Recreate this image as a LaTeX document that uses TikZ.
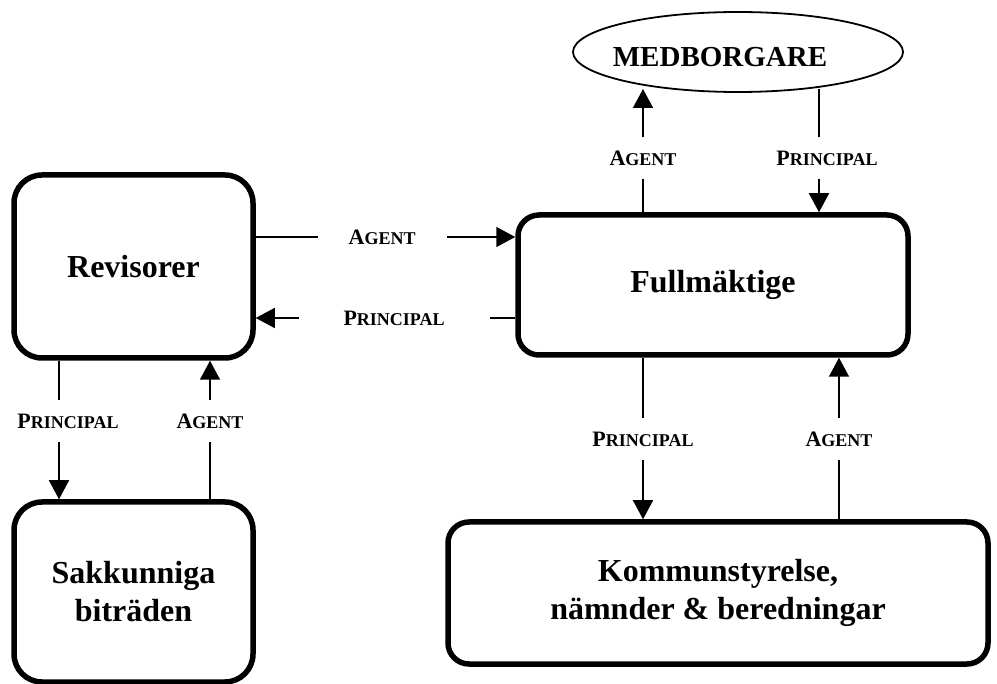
\documentclass[tikz,border=0pt]{standalone}
\usepackage{fontspec}
\setmainfont{Liberation Serif}
\usetikzlibrary{arrows.meta,shapes.geometric}
\newcommand\smcap[2]{{\fontsize{22}{22}\selectfont #1}{\fontsize{18}{18}\selectfont #2}}
\begin{document}
\begin{tikzpicture}[x=1pt,y=-1pt,
  box/.style={draw, line width=5.5pt, rounded corners=28pt, align=center,
    font=\fontsize{32}{38}\selectfont\bfseries, inner sep=0pt},
  arr/.style={line width=1.5pt, -{Triangle[length=19pt,width=20pt]}},
  lab/.style={fill=white, inner xsep=2pt, inner ysep=13.5pt, font=\bfseries},
  hlab/.style={fill=white, inner ysep=3pt, font=\bfseries}]
\useasboundingbox (0,0) rectangle (997,684);

\node[box, minimum width=239pt, minimum height=183pt] (rev) at (133.5,266.5) {Revisorer};
\node[box, minimum width=239pt, minimum height=180pt] (sak) at (133.5,592) {Sakkunniga\\biträden};
\node[box, rounded corners=21pt, minimum width=390pt, minimum height=140pt] (fm) at (713,285) {Fullmäktige};
\node[box, rounded corners=21pt, minimum width=540pt, minimum height=142pt] (kom) at (718,593) {Kommunstyrelse,\\nämnder \& beredningar};
\node[draw, ellipse, line width=1.8pt, minimum width=330pt, minimum height=80pt, inner sep=0pt] (med) at (738,52) {};
\node[font=\fontsize{29}{29}\selectfont\bfseries] (medt) at (720,57) {MEDBORGARE};

\coordinate (ya) at (0,237);
\coordinate (yp) at (0,318);
\coordinate (xl1) at (59,0);
\coordinate (xl2) at (210,0);
\coordinate (xr1) at (643,0);
\coordinate (xr2) at (839,0);
\coordinate (xt2) at (819,0);
\coordinate (medA) at (643,89);
\coordinate (medP) at (819,89);

% Revisorer <-> Fullmaktige
\draw[arr] (rev.east |- ya) -- node[hlab, inner xsep=31pt, pos=0.487] {\smcap{A}{GENT}} (fm.west |- ya);
\draw[arr] (fm.west |- yp) -- node[hlab, inner xsep=45pt, pos=0.467] {\smcap{P}{RINCIPAL}} (rev.east |- yp);

% Revisorer <-> Sakkunniga
\draw[arr] (rev.south -| xl1) -- node[lab, pos=0.435, xshift=9pt] {\smcap{P}{RINCIPAL}} (sak.north -| xl1);
\draw[arr] (sak.north -| xl2) -- node[lab, pos=0.565] {\smcap{A}{GENT}} (rev.south -| xl2);

% Fullmaktige <-> Kommunstyrelse
\draw[arr] (fm.south -| xr1) -- node[lab, pos=0.503] {\smcap{P}{RINCIPAL}} (kom.north -| xr1);
\draw[arr] (kom.north -| xr2) -- node[lab, pos=0.497] {\smcap{A}{GENT}} (fm.south -| xr2);

% Fullmaktige <-> Medborgare
\draw[arr] (fm.north -| xr1) -- node[lab, pos=0.441] {\smcap{A}{GENT}} (medA);
\draw[arr] (medP) -- node[lab, pos=0.559, xshift=8pt] {\smcap{P}{RINCIPAL}} (fm.north -| xt2);
\end{tikzpicture}
\end{document}
